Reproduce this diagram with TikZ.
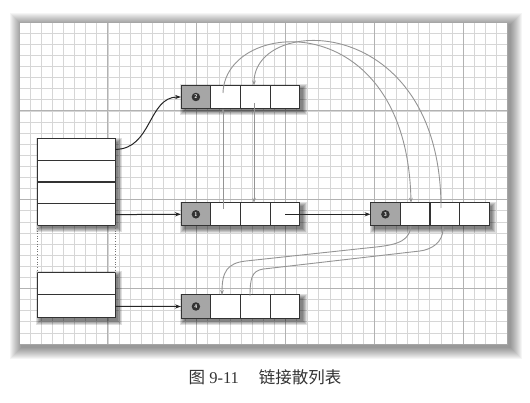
\documentclass[tikz,border=0pt]{standalone}
\usepackage{fontspec}
\setmainfont{Liberation Serif}
\newfontfamily\cjk{Noto Sans CJK SC}
\usetikzlibrary{arrows.meta,calc}
\pgfdeclarelayer{back}
\pgfdeclarelayer{shade}
\pgfsetlayers{back,shade,main}
\newcommand\boxshadow[2]{%
  \foreach \d in {0,...,4}{%
    \fill[black,opacity=0.12] ($(#1.north west)+(3-\d,3-\d)$) rectangle ($(#2.south east)+(3+\d,3+\d)$);}}
\tikzset{
  cell/.style={draw=black!80, line width=1pt, fill=white, minimum width=29.75pt,
    minimum height=23pt, inner sep=0pt, outer sep=0pt},
  keycell/.style={cell, fill=black!35},
  row/.style={draw=black!80, line width=1pt, fill=white, minimum width=78pt,
    minimum height=21.75pt, inner sep=0pt, outer sep=0pt},
  lrow/.style={row, minimum height=22.5pt},
  num/.style={circle, fill=black!80, text=white, inner sep=0pt, minimum size=8.5pt,
    font=\sffamily\bfseries\fontsize{5.5}{5.5}\selectfont},
  blk/.style={draw=black!85, line width=1pt, -{Stealth[length=6pt,width=4.2pt]}},
  gry/.style={draw=black!42, line width=0.9pt, -{Stealth[length=5pt,width=3.6pt]}},
  dots/.style={draw=black!55, dotted, line width=0.6pt},
  minorline/.style={draw=black!16, line width=0.5pt},
  majorline/.style={draw=black!30, line width=0.7pt},
}
\begin{document}
\begin{tikzpicture}[x=1pt,y=-1pt]
\useasboundingbox (0,0) rectangle (530,403);

% ---------- panel with grid ----------
\begin{pgfonlayer}{back}
  \fill[white] (0,0) rectangle (530,403);
  \foreach \d in {1,...,12}{\fill[black,opacity=0.04] (22-\d,25-\d) rectangle (510+\d,347+\d);}
  \fill[white] (19,22) rectangle (507,344);
  \begin{scope}
    \clip (19,22) rectangle (507,344);
    \foreach \i in {0,...,44}{\pgfmathsetmacro\xx{19+\i*11.1}\draw[minorline] (\xx,22) -- (\xx,344);}
    \foreach \j in {0,...,29}{\pgfmathsetmacro\yy{22+\j*11.1}\draw[minorline] (19,\yy) -- (507,\yy);}
    \foreach \i in {0,8,...,40}{\pgfmathsetmacro\xx{19+\i*11.1}\draw[majorline] (\xx,22) -- (\xx,344);}
    \foreach \j in {0,8,...,24}{\pgfmathsetmacro\yy{22+\j*11.1}\draw[majorline] (19,\yy) -- (507,\yy);}
  \end{scope}
  \draw[black!35, line width=0.5pt] (19,22) rectangle (507,344);
\end{pgfonlayer}

% ---------- bucket table ----------
\node[row] (t1) at (76.1,149.4) {};
\node[row] (t2) at (76.1,171.1) {};
\node[row] (t3) at (76.1,192.9) {};
\node[row] (t4) at (76.1,214.6) {};
\node[lrow] (u1) at (76.1,283.75) {};
\node[lrow] (u2) at (76.1,306.25) {};
\draw[dots] (t4.south west) -- (u1.north west);
\draw[dots] (t4.south east) -- (u1.north east);

% ---------- entries ----------
\node[keycell] (n2a) at (195.9,97) {};
\node[cell] (n2b) at (225.6,97) {};
\node[cell] (n2c) at (255.4,97) {};
\node[cell] (n2d) at (285.1,97) {};

\node[keycell] (n1a) at (195.9,214.3) {};
\node[cell] (n1b) at (225.6,214.3) {};
\node[cell] (n1c) at (255.4,214.3) {};
\node[cell] (n1d) at (285.1,214.3) {};

\node[keycell] (n3a) at (385.4,214.3) {};
\node[cell] (n3b) at (415.1,214.3) {};
\node[cell] (n3c) at (444.9,214.3) {};
\node[cell] (n3d) at (474.6,214.3) {};

\node[keycell] (n4a) at (195.9,306.5) {};
\node[cell] (n4b) at (225.6,306.5) {};
\node[cell] (n4c) at (255.4,306.5) {};
\node[cell] (n4d) at (285.1,306.5) {};

\node[num] (l1) at (n1a) {1};
\node[num] (l2) at (n2a) {2};
\node[num] (l3) at (n3a) {3};
\node[num] (l4) at (n4a) {4};

\begin{pgfonlayer}{shade}
  \boxshadow{t1}{t4}
  \boxshadow{u1}{u2}
  \boxshadow{n1a}{n1d}
  \boxshadow{n2a}{n2d}
  \boxshadow{n3a}{n3d}
  \boxshadow{n4a}{n4d}
\end{pgfonlayer}

% ---------- bucket chains (black) ----------
\draw[blk] (t1.east) .. controls (152,149.4) and (148,97) .. (n2a.west);
\draw[blk] (t4.east) -- (n1a.west);
\draw[blk] (u2.east) -- (n4a.west);
\draw[blk] (n1d.center) -- (n3a.west);

% ---------- insertion order links (gray) ----------
\coordinate (e1) at (223,209);
\coordinate (f1) at (254,103);
\coordinate (g1) at (223,93);
\coordinate (g2) at (411,214);
\coordinate (h1) at (441,208);
\coordinate (h2) at (254,97);
\coordinate (i1) at (411,214);
\coordinate (i2) at (222,306);
\coordinate (j1) at (250,296);
\coordinate (j2) at (443,214);

\draw[gry] (e1) -- (e1 |- n2b.south);
\draw[gry] (f1) -- (f1 |- n1c.north);
\draw[gry] (g1) .. controls (225,18) and (407,4) .. (g2 |- n3b.north);
\draw[gry] (h1) .. controls (441,12) and (254,14) .. (h2 |- n2c.north);
\draw[gry] (i1 |- n3b.south) .. controls (409,245) and (390,245.5) .. (362,248.5)
   -- (246,261) .. controls (227,263) and (222,272) .. (i2 |- n4b.north);
\draw[gry] (j1) .. controls (250,273) and (254,269.5) .. (268,268.5)
   -- (420,251) .. controls (432,249.5) and (443,242) .. (j2 |- n3c.south);

% ---------- caption ----------
\node[text=black!80, font=\fontsize{16.5}{18}\selectfont, inner sep=0pt] (cap) at (265,377)
  {{\cjk 图} 9-11\hspace{1.2em}{\cjk 链接散列表}};
\end{tikzpicture}
\end{document}
